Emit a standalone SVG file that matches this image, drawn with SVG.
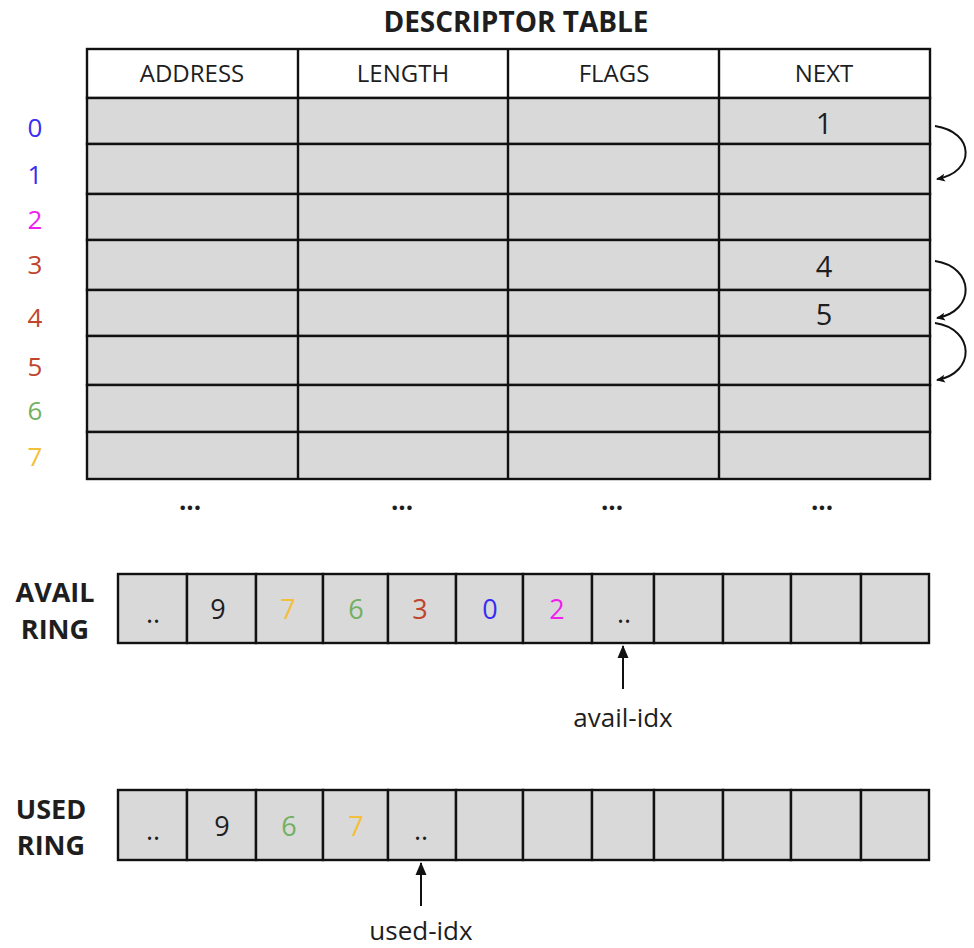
<svg xmlns="http://www.w3.org/2000/svg" width="974" height="948" viewBox="0 0 974 948">
  <style>
    text { font-family: "Open Sans", "Noto Sans", "DejaVu Sans", sans-serif; fill: #1e1e1e; text-anchor: middle; }
    .title { font-size: 28px; font-weight: bold; }
    .hdr { font-size: 24px; }
    .idx { font-size: 26px; }
    .val { font-size: 29px; }
    .cell { font-size: 27px; }
    .dots { font-size: 26px; font-weight: bold; }
    .lbl { font-size: 27px; font-weight: bold; }
    .ptr { font-size: 26px; }
    .box { fill: #d9d9d9; stroke: #111; stroke-width: 2.4; }
    .head { fill: #ffffff; stroke: #111; stroke-width: 2.4; }
    .grid { stroke: #111; stroke-width: 2.4; }
    .conn { fill: none; stroke: #111; stroke-width: 2; }
    .c0 { fill: #3a2cf0; }
    .c2 { fill: #f01ff0; }
    .c3 { fill: #c0452c; }
    .c6 { fill: #72b062; }
    .c7 { fill: #f4bf3a; }
  </style>
  <defs>
    <marker id="tip" markerWidth="10" markerHeight="10" refX="8" refY="5" orient="auto" markerUnits="userSpaceOnUse">
      <path d="M0,1 L9,5 L0,9 L2,5 Z" fill="#111"/>
    </marker>
    <marker id="tipBig" markerWidth="14" markerHeight="14" refX="12" refY="7" orient="auto" markerUnits="userSpaceOnUse">
      <path d="M0,1.5 L13,7 L0,12.5 Z" fill="#111"/>
    </marker>
  </defs>

  <rect width="974" height="948" fill="#ffffff"/>

  <!-- descriptor table -->
  <g id="descriptor-table">
    <text class="title" x="516" y="32">DESCRIPTOR TABLE</text>
    <rect class="head" x="87" y="49" width="843" height="49"/>
    <line class="grid" x1="298" y1="49" x2="298" y2="98"/>
    <line class="grid" x1="508" y1="49" x2="508" y2="98"/>
    <line class="grid" x1="719" y1="49" x2="719" y2="98"/>
    <text class="hdr" x="192" y="82">ADDRESS</text>
    <text class="hdr" x="403" y="82">LENGTH</text>
    <text class="hdr" x="614" y="82">FLAGS</text>
    <text class="hdr" x="824" y="82">NEXT</text>

    <g id="rows">
      <rect class="box" x="87" y="98" width="843" height="46"/>
      <rect class="box" x="87" y="144" width="843" height="50"/>
      <rect class="box" x="87" y="194" width="843" height="46"/>
      <rect class="box" x="87" y="240" width="843" height="50"/>
      <rect class="box" x="87" y="290" width="843" height="46"/>
      <rect class="box" x="87" y="336" width="843" height="49"/>
      <rect class="box" x="87" y="385" width="843" height="47"/>
      <rect class="box" x="87" y="432" width="843" height="47"/>
      <line class="grid" x1="298" y1="98" x2="298" y2="479"/>
      <line class="grid" x1="508" y1="98" x2="508" y2="479"/>
      <line class="grid" x1="719" y1="98" x2="719" y2="479"/>
    </g>

    <g id="next-values">
      <text class="val" x="824" y="134">1</text>
      <text class="val" x="824" y="277">4</text>
      <text class="val" x="824" y="325">5</text>
    </g>

    <g id="row-index">
      <text class="idx c0" x="35" y="137">0</text>
      <text class="idx c0" x="35" y="184">1</text>
      <text class="idx c2" x="35" y="229">2</text>
      <text class="idx c3" x="35" y="274">3</text>
      <text class="idx c3" x="35" y="327">4</text>
      <text class="idx c3" x="35" y="376">5</text>
      <text class="idx c6" x="35" y="420">6</text>
      <text class="idx c7" x="35" y="466">7</text>
    </g>

    <g id="more-rows">
      <text class="dots" x="190" y="510">...</text>
      <text class="dots" x="402" y="510">...</text>
      <text class="dots" x="612" y="510">...</text>
      <text class="dots" x="822" y="510">...</text>
    </g>
  </g>

  <!-- available ring -->
  <g id="avail-ring">
    <text class="lbl" x="55" y="602">AVAIL</text>
    <text class="lbl" x="55" y="639">RING</text>
    <rect class="box" x="118" y="574" width="69" height="69"/>
    <rect class="box" x="187" y="574" width="69" height="69"/>
    <rect class="box" x="256" y="574" width="67" height="69"/>
    <rect class="box" x="323" y="574" width="65" height="69"/>
    <rect class="box" x="388" y="574" width="68" height="69"/>
    <rect class="box" x="456" y="574" width="67" height="69"/>
    <rect class="box" x="523" y="574" width="69" height="69"/>
    <rect class="box" x="592" y="574" width="62" height="69"/>
    <rect class="box" x="654" y="574" width="69" height="69"/>
    <rect class="box" x="723" y="574" width="68" height="69"/>
    <rect class="box" x="791" y="574" width="70" height="69"/>
    <rect class="box" x="861" y="574" width="68" height="69"/>
    <text class="cell" x="153" y="623">..</text>
    <text class="cell" x="218" y="619">9</text>
    <text class="cell c7" x="288" y="619">7</text>
    <text class="cell c6" x="356" y="619">6</text>
    <text class="cell c3" x="420" y="619">3</text>
    <text class="cell c0" x="490" y="619">0</text>
    <text class="cell c2" x="557" y="619">2</text>
    <text class="cell" x="624" y="623">..</text>
  </g>

  <g id="avail-idx">
    <text class="ptr" x="623" y="727">avail-idx</text>
  </g>

  <!-- used ring -->
  <g id="used-ring">
    <text class="lbl" x="51" y="819">USED</text>
    <text class="lbl" x="51" y="855">RING</text>
    <rect class="box" x="118" y="790" width="69" height="70"/>
    <rect class="box" x="187" y="790" width="69" height="70"/>
    <rect class="box" x="256" y="790" width="67" height="70"/>
    <rect class="box" x="323" y="790" width="65" height="70"/>
    <rect class="box" x="388" y="790" width="68" height="70"/>
    <rect class="box" x="456" y="790" width="67" height="70"/>
    <rect class="box" x="523" y="790" width="69" height="70"/>
    <rect class="box" x="592" y="790" width="62" height="70"/>
    <rect class="box" x="654" y="790" width="69" height="70"/>
    <rect class="box" x="723" y="790" width="68" height="70"/>
    <rect class="box" x="791" y="790" width="70" height="70"/>
    <rect class="box" x="861" y="790" width="68" height="70"/>
    <text class="cell" x="153" y="840">..</text>
    <text class="cell" x="222" y="836">9</text>
    <text class="cell c6" x="289" y="836">6</text>
    <text class="cell c7" x="356" y="836">7</text>
    <text class="cell" x="421" y="840">..</text>
  </g>

  <g id="used-idx">
    <text class="ptr" x="421" y="940">used-idx</text>
  </g>

  <!-- connectors -->
  <g id="connectors">
    <path class="conn" d="M935,126 C975,132 976,172 937,179" marker-end="url(#tip)"/>
    <path class="conn" d="M935,261 C975,267 976,311 937,318" marker-end="url(#tip)"/>
    <path class="conn" d="M935,323 C975,329 976,373 937,380" marker-end="url(#tip)"/>
    <line class="conn" x1="623" y1="689" x2="623" y2="646" marker-end="url(#tipBig)"/>
    <line class="conn" x1="421" y1="906" x2="421" y2="863" marker-end="url(#tipBig)"/>
  </g>
</svg>
